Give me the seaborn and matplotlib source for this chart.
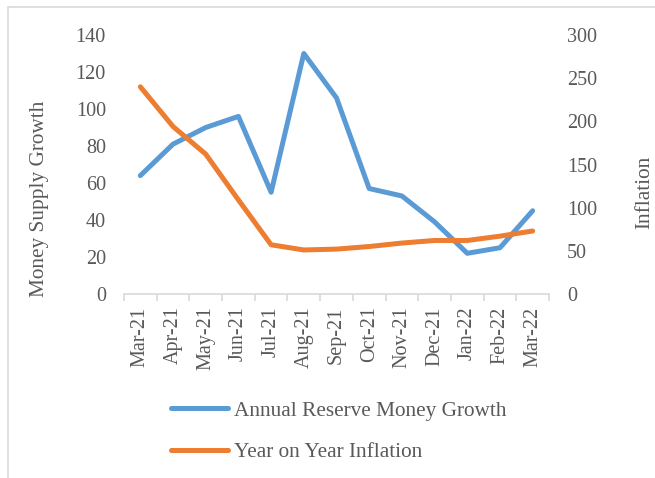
import matplotlib
matplotlib.use("Agg")
import matplotlib.pyplot as plt
from matplotlib.patches import Rectangle
import seaborn as sns
import pandas as pd

months = ["Mar-21", "Apr-21", "May-21", "Jun-21", "Jul-21", "Aug-21", "Sep-21",
          "Oct-21", "Nov-21", "Dec-21", "Jan-22", "Feb-22", "Mar-22"]
reserve_money_growth = [64, 81, 90, 96, 55, 130, 106, 57, 53, 39, 22, 25, 45]
yoy_inflation = [240, 194, 162, 109, 57, 51, 52, 55, 59, 62, 62, 67, 73]
left_ticks = [0, 20, 40, 60, 80, 100, 120, 140]
right_ticks = [0, 50, 100, 150, 200, 250, 300]

df = pd.DataFrame({"Month": months,
                   "Reserve": reserve_money_growth,
                   "Inflation": yoy_inflation})

sns.set_style("white")
plt.rcParams["font.family"] = ["Liberation Serif", "DejaVu Serif"]

TEXT = "#595959"
GRID = "#d9d9d9"
BLUE = "#5B9BD5"
ORANGE = "#ED7D31"
FS = 14.5
FS_LABEL = 15.3

W, H = 655, 478
fig = plt.figure(figsize=(W / 100, H / 100), dpi=100)
ax = fig.add_axes([124 / W, 1 - 294 / H, (549 - 124) / W, (294 - 35) / H])
ax2 = ax.twinx()

sns.lineplot(data=df, x="Month", y="Reserve", ax=ax, color=BLUE, lw=3.6,
             label="Annual Reserve Money Growth", legend=False, sort=False)
sns.lineplot(data=df, x="Month", y="Inflation", ax=ax2, color=ORANGE, lw=3.6,
             label="Year on Year Inflation", legend=False, sort=False)

ax.set_xlim(-0.5, len(months) - 0.5)
ax.set_ylim(0, 140)
ax2.set_ylim(0, 300)
ax.set_yticks(left_ticks)
ax2.set_yticks(right_ticks)
ax.set_xticks(range(len(months)))
ax.set_xticklabels(months, rotation=90)
ax.set_xticks([i - 0.5 for i in range(len(months) + 1)], minor=True)

for a in (ax, ax2):
    for s in a.spines.values():
        s.set_visible(False)
    a.patch.set_alpha(0)
ax.spines["bottom"].set_visible(True)
ax.spines["bottom"].set_color(GRID)
ax.spines["bottom"].set_linewidth(1.2)

ax.tick_params(axis="x", which="major", length=0, pad=9, labelsize=FS, labelcolor=TEXT)
ax.tick_params(axis="x", which="minor", length=5, width=1.2, color=GRID, bottom=True)
ax.tick_params(axis="y", length=0, pad=13, labelsize=FS, labelcolor=TEXT)
ax2.tick_params(axis="y", length=0, pad=13, labelsize=FS, labelcolor=TEXT)

ax.set_xlabel("")
ax.set_ylabel("Money Supply Growth", fontsize=FS_LABEL, color=TEXT)
ax2.set_ylabel("Inflation", fontsize=FS_LABEL, color=TEXT)
ax.yaxis.label.set_va("center")
ax2.yaxis.label.set_va("center")
ax.yaxis.set_label_coords((40 - 124) / 425, (294 - 199) / 259)
ax2.yaxis.set_label_coords((645 - 124) / 425, (294 - 192) / 259)

h1, l1 = ax.get_legend_handles_labels()
h2, l2 = ax2.get_legend_handles_labels()
fig.legend(h1 + h2, l1 + l2, loc="upper left",
           bbox_to_anchor=(171 / W, 1 - 401 / H), frameon=False,
           fontsize=FS_LABEL, labelcolor=TEXT, handlelength=2.7, handletextpad=0.28,
           labelspacing=1.0, borderpad=0, borderaxespad=0)

fig.patches.append(Rectangle((8 / W, -0.1), 1.2, 1.1 - 7 / H, transform=fig.transFigure,
                             fill=False, edgecolor=GRID, lw=1.2))

fig.savefig("out.png", dpi=100)
